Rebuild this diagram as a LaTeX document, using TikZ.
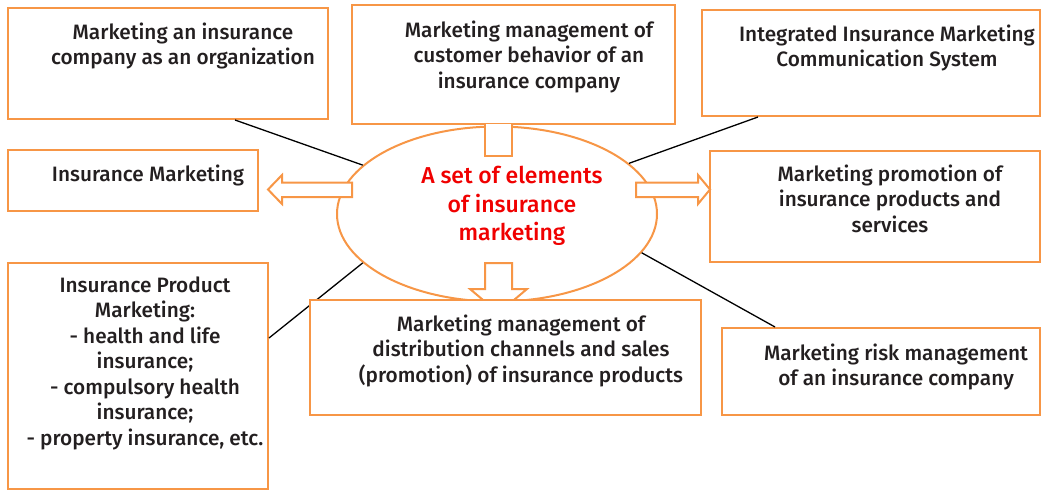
\documentclass[tikz,border=0pt]{standalone}
\usepackage{fontspec}
\setmainfont{Fira Sans}[UprightFont={* Medium}]
\usetikzlibrary{shapes.geometric}
\definecolor{boxorange}{RGB}{247,150,70}
\definecolor{setred}{RGB}{240,0,0}
\definecolor{ink}{RGB}{35,31,32}

\begin{document}
\begin{tikzpicture}[x=1pt, y=-1pt,
	box/.style={draw=boxorange, line width=2pt, fill=white, inner sep=0pt},
	txt/.style={anchor=north, align=center, inner sep=0pt, text=ink, font=\fontsize{20.8}{25.5}\selectfont},
	link/.style={draw=black, line width=1.3pt},
	block/.style={draw=boxorange, line width=2pt, fill=white, line join=miter}]
	\useasboundingbox (0,0) rectangle (1044,490);

	% boxes round the centre
	\node[box, minimum width=320pt, minimum height=111pt] (org) at (168,63.5) {};
	\node[box, minimum width=323pt, minimum height=119pt] (behav) at (513.5,64.5) {};
	\node[box, minimum width=338pt, minimum height=106pt] (imc) at (871,63) {};
	\node[box, minimum width=250pt, minimum height=61pt] (insmkt) at (133,180.5) {};
	\node[box, minimum width=330pt, minimum height=111pt] (promo) at (875,206.5) {};
	\node[box, minimum width=260pt, minimum height=226pt] (prod) at (138,376) {};
	\node[box, minimum width=318pt, minimum height=87pt] (risk) at (881,371.5) {};

	% centre
	\node[draw=boxorange, line width=2pt, fill=white, ellipse, minimum width=320pt, minimum height=175pt] (core) at (497,214) {};
	\node[txt, text=setred, font=\fontsize{23}{28.5}\selectfont] (coretxt) at (512,166) {A set of elements\\of insurance\\marketing};

	\draw[link] ([xshift=67pt]org.south) -- (core.160);
	\draw[link] ([xshift=-113pt]imc.south) -- (core.21);
	\draw[link] ([yshift=38pt]prod.east) -- (core.200);
	\draw[link] (core.345) -- ([xshift=-106pt]risk.north);

	% block arrows
	\draw[block] (485,124) -- (485,156) -- (512,156) -- (512,124);
	\draw[block] (352,182.5) -- (282,182.5) -- (282,175) -- (268,189.5) -- (282,204) -- (282,197) -- (352,197) -- cycle;
	\draw[block] (636,182.5) -- (698,182.5) -- (698,175) -- (710,189.5) -- (698,204) -- (698,197) -- (636,197) -- cycle;
	\draw[block] (485,263) -- (512,263) -- (512,289) -- (527,289) -- (498.5,313) -- (470,289) -- (485,289) -- cycle;

	\node[box, minimum width=391pt, minimum height=115pt] (chan) at (505.5,357.5) {};

	% texts
	\node[txt] (orgtxt) at (183,22.5) {Marketing an insurance\\company as an organization};
	\node[txt] (behavtxt) at (529,20.5) {Marketing management of\\customer behavior of an\\insurance company};
	\node[txt] (imctxt) at (887,24.5) {Integrated Insurance Marketing\\Communication System};
	\node[txt] (insmkttxt) at (148,165) {Insurance Marketing};
	\node[txt] (promotxt) at (890,164.5) {Marketing promotion of\\insurance products and\\services};
	\node[txt] (prodtxt) at (145,276.5) {Insurance Product\\Marketing:\\- health and life\\insurance;\\- compulsory health\\insurance;\\- property insurance, etc.};
	\node[txt] (chantxt) at (521,314.5) {Marketing management of\\distribution channels and sales\\(promotion) of insurance products};
	\node[txt] (risktxt) at (896,343.5) {Marketing risk management\\of an insurance company};
\end{tikzpicture}
\end{document}
